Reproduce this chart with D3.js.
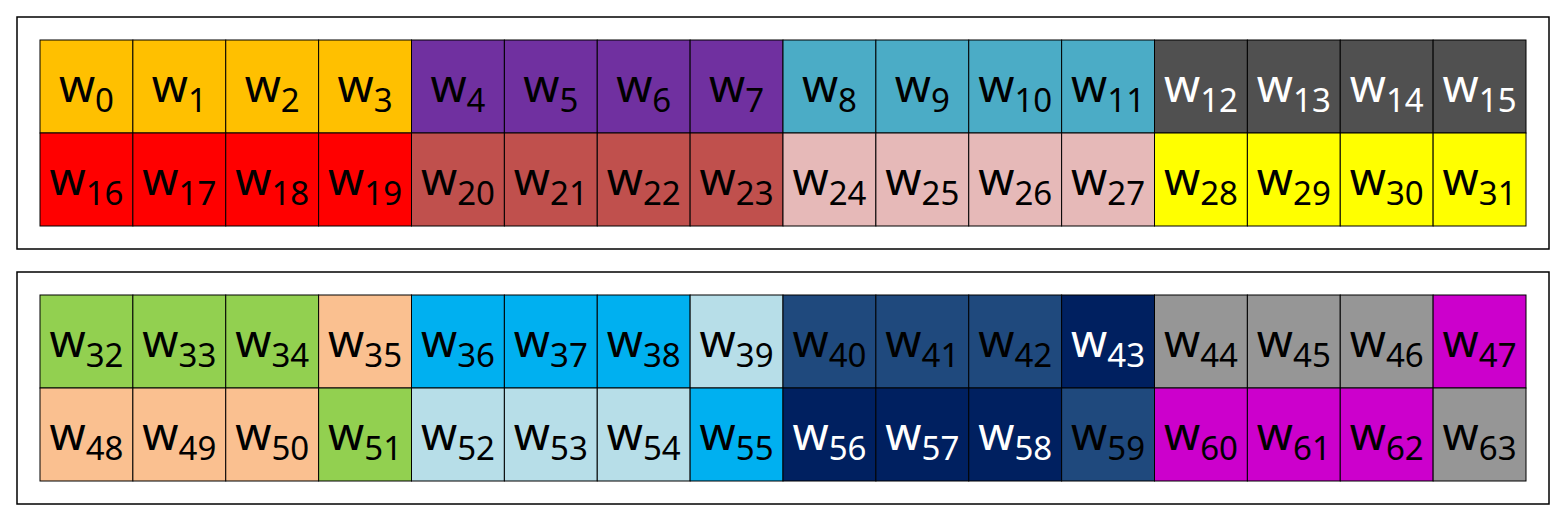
<!DOCTYPE html>
<html lang="en">
<head>
<meta charset="utf-8">
<script src="https://d3js.org/d3.v7.min.js"></script>
<style>body{margin:0;background:#fff}</style>
</head>
<body>
<script>
// cell colours, one per weight index (0..63)
var fills = [
  "#FFC000","#FFC000","#FFC000","#FFC000","#7030A0","#7030A0","#7030A0","#7030A0",
  "#4BACC6","#4BACC6","#4BACC6","#4BACC6","#505050","#505050","#505050","#505050",
  "#FF0000","#FF0000","#FF0000","#FF0000","#C0504D","#C0504D","#C0504D","#C0504D",
  "#E6B9B8","#E6B9B8","#E6B9B8","#E6B9B8","#FFFF00","#FFFF00","#FFFF00","#FFFF00",
  "#92D050","#92D050","#92D050","#FAC090","#00B0F0","#00B0F0","#00B0F0","#B7DEE8",
  "#1F497D","#1F497D","#1F497D","#002060","#969696","#969696","#969696","#CC00CC",
  "#FAC090","#FAC090","#FAC090","#92D050","#B7DEE8","#B7DEE8","#B7DEE8","#00B0F0",
  "#002060","#002060","#002060","#1F497D","#CC00CC","#CC00CC","#CC00CC","#969696"
];
var whiteText = [12,13,14,15,43,56,57,58];
var panels = [0, 1];
var cols = d3.range(16);

var svg = d3.select("body").append("svg").attr("width",1567).attr("height",521);

var x = d3.scaleBand().domain(cols).range([40,1526]);
var panelY = d3.scaleOrdinal().domain(panels).range([17,272]);
var cellH = 93;

panels.forEach(function(p){
  var y0 = panelY(p);
  svg.append("rect").attr("x",17).attr("y",y0).attr("width",1532).attr("height",232)
    .attr("fill","none").attr("stroke","#000").attr("stroke-width",1.5);
  var cells = d3.range(32).map(function(i){ return p*32+i; });
  var g = svg.append("g").selectAll("g").data(cells).enter().append("g")
    .attr("transform", function(d){
      var i = d - p*32;
      return "translate(" + x(i%16) + "," + (y0+23+Math.floor(i/16)*cellH) + ")";
    });
  g.append("rect").attr("width",x.bandwidth()).attr("height",cellH)
    .attr("fill",function(d){return fills[d];}).attr("stroke","#000").attr("stroke-width",1);
  var t = g.append("text").attr("x",x.bandwidth()/2).attr("y",62).attr("text-anchor","middle")
    .attr("font-family","Noto Sans, sans-serif")
    .attr("fill",function(d){return whiteText.indexOf(d)>=0 ? "#fff" : "#000";});
  t.append("tspan").attr("font-size",46).text("w");
  t.append("tspan").attr("font-size",33).attr("dy",10).text(function(d){return d;});
});
</script>
</body>
</html>
